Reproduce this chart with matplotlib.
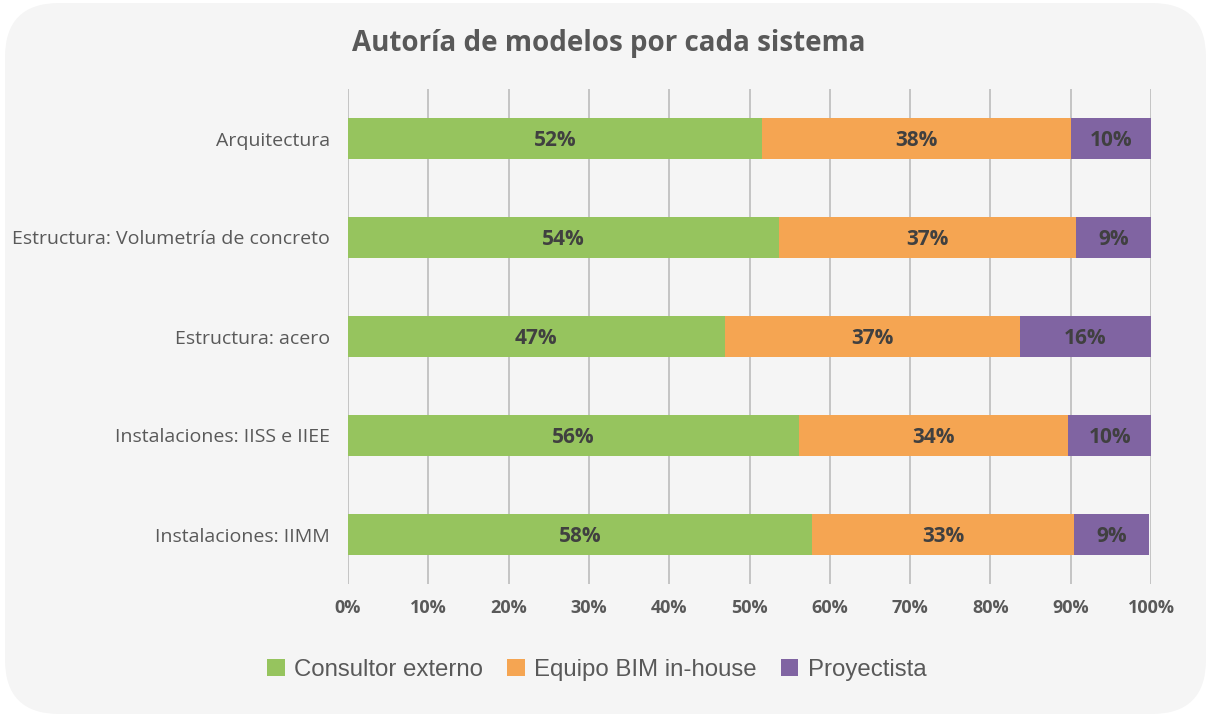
import matplotlib
matplotlib.use("Agg")
import matplotlib.pyplot as plt
from matplotlib.patches import FancyBboxPatch, Patch

# data (percent)
categories = ["Arquitectura", "Estructura: Volumetría de concreto", "Estructura: acero",
              "Instalaciones: IISS e IIEE", "Instalaciones: IIMM"]
consultor = [51.5, 53.7, 46.9, 56.2, 57.8]
equipo_bim = [38.5, 36.9, 36.8, 33.5, 32.6]
proyectista = [10.0, 9.4, 16.3, 10.5, 9.4]
series_names = ["Consultor externo", "Equipo BIM in-house", "Proyectista"]
colors = ["#96c45e", "#f5a552", "#8064a2"]
xticks = [0, 10, 20, 30, 40, 50, 60, 70, 80, 90, 100]

W, H = 1207, 722
fig = plt.figure(figsize=(W / 100, H / 100), dpi=100)
fig.patch.set_facecolor("white")

# rounded grey panel
panel = FancyBboxPatch((5 / W, 8 / H), (W - 5 - 1) / W, (H - 8 - 3) / H,
                       boxstyle="round,pad=0,rounding_size=0.045",
                       transform=fig.transFigure, facecolor="#f5f5f5",
                       edgecolor="none", mutation_aspect=W / H, zorder=-5)
fig.patches.append(panel)

ax = fig.add_axes([348 / W, (H - 584) / H, (1151 - 348) / W, (584 - 89) / H])
ax.set_facecolor("none")

y = list(range(len(categories)))
left = [0] * len(categories)
for vals, name, col in zip([consultor, equipo_bim, proyectista], series_names, colors):
    ax.barh(y, vals, left=left, height=0.41, color=col, label=name, zorder=3)
    for yi, l, v in zip(y, left, vals):
        ax.text(l + v / 2, yi + 0.02, "%d%%" % round(v), ha="center", va="center",
                fontsize=15, fontweight="bold", color="#404040",
                family="Open Sans", zorder=4)
    left = [a + b for a, b in zip(left, vals)]

ax.set_xlim(0, 100)
ax.set_ylim(4.5, -0.5)
ax.set_xticks(xticks)
ax.set_xticklabels(["%d%%" % t for t in xticks], fontsize=13, fontweight="bold",
                   color="#595959", family="Open Sans")
ax.set_yticks(y)
ax.set_yticklabels(categories, fontsize=14, color="#595959", family="Open Sans")
ax.tick_params(axis="both", length=0)
ax.tick_params(axis="x", pad=11)
ax.tick_params(axis="y", pad=13)
for s in ax.spines.values():
    s.set_visible(False)
ax.grid(axis="x", color="#c0c0c0", linewidth=1.3, zorder=1)
ax.set_axisbelow(True)

fig.text(609 / W, 1 - 44 / H, "Autoría de modelos por cada sistema", ha="center",
         va="center", fontsize=20, fontweight="bold", color="#595959", family="Open Sans")

handles = [Patch(facecolor=c, edgecolor="none") for c in colors]
fig.legend(handles, series_names, loc="center", bbox_to_anchor=(597 / W, 1 - 670 / H),
           ncol=3, frameon=False, handlelength=0.72, handleheight=0.72,
           handletextpad=0.4, columnspacing=1.0, labelcolor="#595959",
           prop={"family": "Liberation Sans", "size": 17.3})

fig.savefig("out.png", dpi=100, facecolor="white")
